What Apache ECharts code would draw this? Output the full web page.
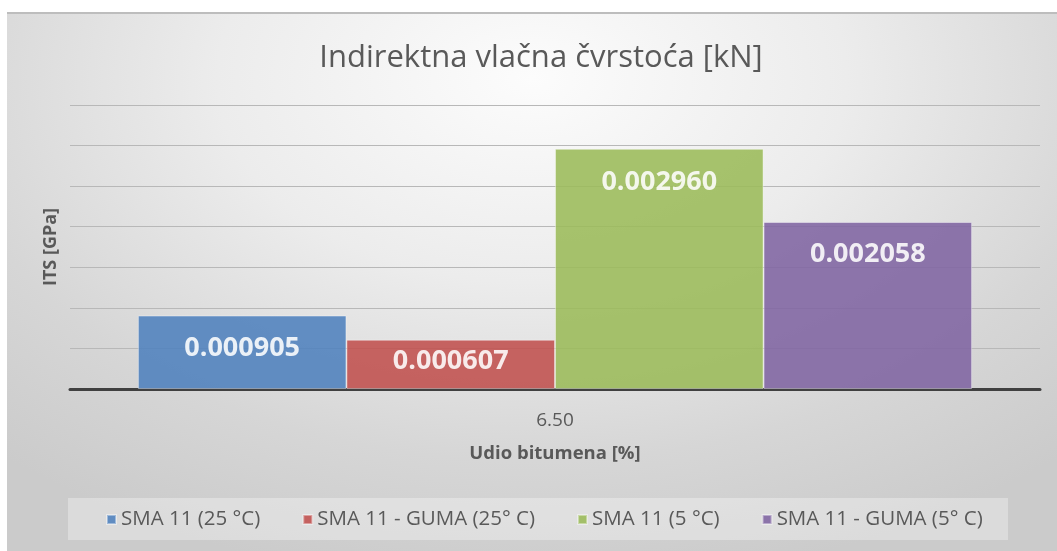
<!DOCTYPE html>
<html>
<head>
<meta charset="utf-8">
<script src="https://cdn.jsdelivr.net/npm/echarts@6/dist/echarts.min.js"></script>
<style>
  html, body { margin: 0; padding: 0; background: #ffffff; }
  #frame {
    position: absolute; left: 7px; top: 12px; width: 1050px; height: 539px;
    background: radial-gradient(ellipse 75% 95% at 50% 12%, #fcfcfc 0%, #ececec 40%, #d6d6d6 75%, #cbcbcb 100%);
    border-top: 2px solid #bdbdbd;
    box-sizing: border-box;
  }
  #chart { position: absolute; left: 0; top: 0; width: 1057px; height: 551px; }
</style>
</head>
<body>
<div id="frame"></div>
<div id="chart"></div>
<script>
// Indirect tensile strength for one bitumen content, four mixtures
const categories = ['6.50'];
const seriesNames = ['SMA 11 (25 °C)', 'SMA 11 - GUMA (25° C)', 'SMA 11 (5 °C)', 'SMA 11 - GUMA (5° C)'];
const sma25 = [0.000905];
const guma25 = [0.000607];
const sma5 = [0.002960];
const guma5 = [0.002058];
const seriesValues = [sma25, guma25, sma5, guma5];
const colors = ['#4f81bd', '#c0504d', '#9bbb59', '#8064a2'];
// label offset from the bar top (the shortest bar sits its label a bit higher)
const labelDistance = [19, 8, 20, 19];

const chart = echarts.init(document.getElementById('chart'), null, { renderer: 'canvas' });

const series = seriesNames.map((name, i) => ({
  name: name,
  type: 'bar',
  data: seriesValues[i],
  barGap: '0%',
  barCategoryGap: '14%',
  itemStyle: {
    color: colors[i],
    opacity: 0.88,
    borderColor: 'rgba(255,255,255,0.45)',
    borderWidth: 1
  },
  emphasis: { disabled: true },
  label: {
    show: true,
    position: 'insideTop',
    distance: labelDistance[i],
    color: '#ffffff',
    fontFamily: 'Open Sans',
    fontWeight: 'bold',
    fontSize: 27,
    formatter: p => p.value.toFixed(6)
  }
}));

chart.setOption({
  backgroundColor: 'transparent',
  animation: false,
  title: {
    text: 'Indirektna vlačna čvrstoća [kN]',
    left: 536,
    textAlign: 'center',
    top: 38,
    textStyle: {
      fontFamily: 'Open Sans',
      fontWeight: 'normal',
      fontSize: 31,
      color: '#595959'
    }
  },
  graphic: [{
    type: 'rect',
    shape: { x: 68, y: 498, width: 940, height: 42 },
    style: { fill: 'rgba(255,255,255,0.32)' },
    z: -1
  }],
  legend: {
    top: 509,
    left: 106,
    padding: 0,
    icon: 'rect',
    itemWidth: 9,
    itemHeight: 9,
    itemGap: 42,
    textStyle: {
      fontFamily: 'Open Sans',
      fontSize: 20.5,
      color: '#595959'
    },
    data: seriesNames
  },
  grid: { left: 70, right: 17, top: 105, bottom: 162 },
  xAxis: {
    type: 'category',
    data: categories,
    name: 'Udio bitumena [%]',
    nameLocation: 'middle',
    nameGap: 55,
    nameTextStyle: {
      fontFamily: 'Open Sans',
      fontWeight: 'bold',
      fontSize: 18.5,
      color: '#595959'
    },
    axisLine: { lineStyle: { color: '#404040', width: 3 } },
    axisTick: { show: false },
    axisLabel: {
      margin: 22,
      fontFamily: 'Open Sans',
      fontSize: 19,
      color: '#595959'
    }
  },
  yAxis: {
    type: 'value',
    min: 0,
    max: 0.0035,
    interval: 0.0005,
    name: 'ITS [GPa]',
    nameLocation: 'middle',
    nameGap: 10,
    nameTextStyle: {
      fontFamily: 'Open Sans',
      fontWeight: 'bold',
      fontSize: 18,
      color: '#595959'
    },
    axisLine: { show: false },
    axisTick: { show: false },
    axisLabel: { show: false },
    splitLine: { lineStyle: { color: '#b8b8b8', width: 1 } }
  },
  series: series
});
</script>
</body>
</html>
